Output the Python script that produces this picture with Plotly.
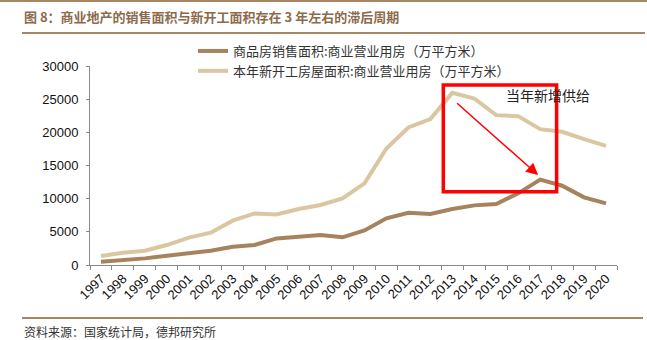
import plotly.graph_objects as go

years = [str(y) for y in range(1997, 2021)]
sales_area = [500, 750, 1000, 1410, 1710, 2160, 2760, 3010, 4010, 4270, 4520, 4170,
              5200, 7030, 7880, 7700, 8430, 8990, 9190, 10800, 12880, 11950, 10200, 9290]
new_starts = [1360, 1850, 2160, 3010, 4120, 4870, 6680, 7780, 7630, 8430, 9040, 10040,
              12300, 17570, 20730, 21990, 25950, 25100, 22590, 22440, 20480, 20080, 18980, 17970]
name_sales = "商品房销售面积:商业营业用房（万平方米）"
name_starts = "本年新开工房屋面积:商业营业用房（万平方米）"
title_text = "图 8：商业地产的销售面积与新开工面积存在 3 年左右的滞后周期"
source_text = "资料来源：国家统计局，德邦研究所"
note_text = "当年新增供给"

W, H = 647, 340
L, R, T, B = 90, 30, 66, 75
pw, ph = W - L - R, H - T - B

def px(x):
    return (x - L) / pw

def py(y):
    return (H - B - y) / ph

CJK = "Noto Sans CJK SC"
fig = go.Figure()
fig.add_trace(go.Scatter(x=years, y=sales_area, mode="lines", name=name_sales,
                         line=dict(color="#A6825D", width=4)))
fig.add_trace(go.Scatter(x=years, y=new_starts, mode="lines", name=name_starts,
                         line=dict(color="#DAC7A1", width=4)))

brown = "#A88563"
shapes = [
    dict(type="line", xref="paper", yref="paper", x0=px(0), x1=px(647), y0=py(1), y1=py(1),
         line=dict(color=brown, width=2)),
    dict(type="line", xref="paper", yref="paper", x0=px(22), x1=px(645), y0=py(33), y1=py(33),
         line=dict(color=brown, width=2)),
    dict(type="line", xref="paper", yref="paper", x0=px(22), x1=px(643), y0=py(318), y1=py(318),
         line=dict(color=brown, width=2)),
    dict(type="rect", xref="x", yref="y", x0=15.59, x1=20.75, y0=11040, y1=27150,
         line=dict(color="#FF0000", width=3.5)),
]

annotations = [
    dict(xref="paper", yref="paper", x=px(22), y=py(17), xanchor="left", yanchor="middle",
         text="<b>" + title_text + "</b>", showarrow=False,
         font=dict(family=CJK, size=13, color="#8C6B4C")),
    dict(xref="paper", yref="paper", x=px(22), y=py(331), xanchor="left", yanchor="middle",
         text=source_text, showarrow=False,
         font=dict(family=CJK, size=12, color="#333333")),
    dict(xref="x", yref="y", x=20.36, y=25600, text=note_text, showarrow=False,
         xanchor="center", yanchor="middle",
         font=dict(family=CJK, size=14, color="#222222")),
    dict(xref="x", yref="y", x=19.91, y=13550, ax=16.15, ay=24590, axref="x", ayref="y",
         text="", showarrow=True, arrowhead=2, arrowsize=1.6, arrowwidth=1.5,
         arrowcolor="#FF0000", standoff=0, startstandoff=0),
]

fig.update_layout(
    width=W, height=H,
    margin=dict(l=L, r=R, t=T, b=B),
    paper_bgcolor="white", plot_bgcolor="white",
    showlegend=True,
    legend=dict(x=px(193), y=py(36), xanchor="left", yanchor="top",
                font=dict(family=CJK, size=13, color="#333333"),
                bgcolor="rgba(0,0,0,0)", tracegroupgap=0, itemwidth=30),
    xaxis=dict(type="category", range=[-0.5, 23.5], tickangle=-45, tickson="boundaries",
               ticks="outside", ticklen=4, tickcolor="#888888",
               showline=True, linecolor="#888888", linewidth=1, showgrid=False,
               tickfont=dict(family="Arial", size=13, color="#111111")),
    yaxis=dict(range=[0, 30000], dtick=5000, tickformat="d", ticks="outside", ticklen=3,
               tickcolor="#888888", ticklabelstandoff=5,
               showline=True, linecolor="#888888", linewidth=1, showgrid=False, zeroline=False,
               tickfont=dict(family="Arial", size=13, color="#111111")),
    shapes=shapes, annotations=annotations,
)

fig.write_html("out.html")
